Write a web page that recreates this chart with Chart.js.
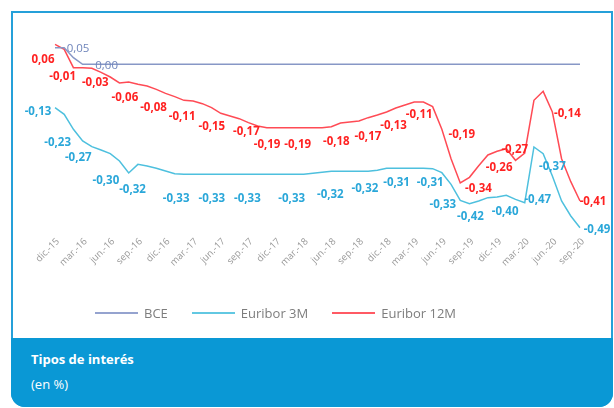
<!DOCTYPE html>
<html>
<head>
<meta charset="utf-8">
<script src="https://cdn.jsdelivr.net/npm/chart.js@4.4.0/dist/chart.umd.min.js"></script>
<style>
  body { margin: 0; width: 614px; height: 408px; background: #fff; position: relative; overflow: hidden; font-family: 'Open Sans', sans-serif; }
  .card { position: absolute; left: 11px; top: 11px; width: 602px; height: 396px; box-sizing: border-box; border: 2px solid #25a0d9; border-radius: 0 0 14px 14px; }
  .foot { position: absolute; left: 11px; top: 338px; width: 602px; height: 69px; background: #0a98d5; border-radius: 0 0 14px 14px; color: #fff; }
  .foot .t1 { position: absolute; left: 20px; top: 12px; font-size: 13px; font-weight: bold; }
  .foot .t2 { position: absolute; left: 20px; top: 37px; font-size: 13px; }
  #chart { position: absolute; left: 0; top: 0; }
  .legend { position: absolute; left: 95px; top: 304px; display: flex; gap: 24px; font-size: 13px; color: #7d7d7d; }
  .legend span { display: flex; align-items: center; }
  .legend i { display: inline-block; width: 43px; height: 2px; margin-right: 6px; }
</style>
</head>
<body>
<div class="card"></div>
<div class="foot"><div class="t1">Tipos de interés</div><div class="t2">(en %)</div></div>
<canvas id="chart" width="614" height="338"></canvas>
<div class="legend">
  <span><i style="background:#95a3cf"></i>BCE</span>
  <span><i style="background:#62c8e2"></i>Euribor 3M</span>
  <span><i style="background:#ff5a64"></i>Euribor 12M</span>
</div>
<script>
const quarterLabels = ['dic.-15', 'mar.-16', 'jun.-16', 'sep.-16', 'dic.-16', 'mar.-17', 'jun.-17', 'sep.-17', 'dic.-17', 'mar.-18',
  'jun.-18', 'sep.-18', 'dic.-18', 'mar.-19', 'jun.-19', 'sep.-19', 'dic.-19', 'mar.-20', 'jun.-20', 'sep.-20']

// monthly, dic.-15 .. sep.-20
const bce = [0.05, 0.05, 0.02, 0, 0, 0, 0, 0, 0, 0, 0, 0, 0, 0, 0, 0, 0, 0, 0, 0,
  0, 0, 0, 0, 0, 0, 0, 0, 0, 0, 0, 0, 0, 0, 0, 0, 0, 0, 0, 0,
  0, 0, 0, 0, 0, 0, 0, 0, 0, 0, 0, 0, 0, 0, 0, 0, 0, 0]
const euribor3m = [-0.13, -0.15, -0.195, -0.23, -0.247, -0.257, -0.268, -0.29, -0.326, -0.30,
  -0.305, -0.312, -0.32, -0.328, -0.33, -0.33, -0.33, -0.33, -0.33, -0.33,
  -0.33, -0.33, -0.33, -0.33, -0.33, -0.33, -0.33, -0.33, -0.327, -0.324,
  -0.321, -0.321, -0.321, -0.321, -0.321, -0.318, -0.312, -0.312, -0.312, -0.312,
  -0.312, -0.313, -0.325, -0.36, -0.408, -0.418, -0.41, -0.40, -0.398, -0.393,
  -0.405, -0.415, -0.248, -0.268, -0.335, -0.41, -0.455, -0.49]
const euribor12m = [0.06, 0.045, -0.01, -0.01, -0.012, -0.024, -0.038, -0.056, -0.053, -0.06,
  -0.065, -0.075, -0.087, -0.097, -0.108, -0.11, -0.118, -0.13, -0.147, -0.155,
  -0.163, -0.175, -0.185, -0.19, -0.19, -0.19, -0.19, -0.19, -0.19, -0.19,
  -0.187, -0.176, -0.173, -0.17, -0.16, -0.152, -0.143, -0.131, -0.122, -0.113,
  -0.113, -0.127, -0.195, -0.283, -0.356, -0.339, -0.304, -0.272, -0.261, -0.253,
  -0.288, -0.266, -0.108, -0.081, -0.143, -0.283, -0.352, -0.41]

// quarterly value labels (null = not shown)
const bceTags = [0.05, 0.00, null, null, null, null, null, null, null, null,
  null, null, null, null, null, null, null, null, null, null]
const euribor3mTags = [-0.13, -0.23, -0.27, -0.30, -0.32, -0.33, -0.33, -0.33, null, -0.33,
  -0.32, -0.32, -0.31, -0.31, -0.33, -0.42, -0.40, -0.47, -0.37, -0.49]
const euribor12mTags = [0.06, -0.01, -0.03, -0.06, -0.08, -0.11, -0.15, -0.17, -0.19, -0.19,
  -0.18, -0.17, -0.13, -0.11, -0.19, -0.34, -0.26, -0.27, -0.14, -0.41]

// where each label sits relative to its point
const bceShift = [[23, 1], [24, 1]]
const euribor3mShift = [[-17, 4], [-25, 2], [-32, 4], [-32, 16], [-33, 19], [-17, 24], [-9, 24], [-1, 24], null, [-12, 24],
  [-1, 23], [6, 17], [10, 14], [16, 14], [1, 32], [1, 13], [8, 15], [13, -3], [0, -9], [17, 2]]
const euribor12mShift = [[-12, 15], [-20, 9], [-15, 6], [-13, 13], [-12, 14], [-11, 16], [-9, 13], [-2, 9], [-9, 17], [-6, 17],
  [5, 15], [9, 16], [7, 14], [5, 13], [20, 5], [9, 11], [2, 16], [-10, -3], [15, 2], [13, 1]]

const monthLabels = []
for (let i = 0; i < euribor12m.length; i++) monthLabels.push(i % 3 === 0 ? quarterLabels[i / 3] : '')

// draws the little value labels next to the quarterly points
const valueTags = {
  id: 'valueTags',
  afterDatasetsDraw(chart) {
    const ctx = chart.ctx
    chart.data.datasets.forEach((ds, i) => {
      const meta = chart.getDatasetMeta(i)
      ctx.save()
      ctx.font = ds.tagFont
      ctx.fillStyle = ds.tagColor
      ctx.textAlign = 'center'
      ctx.textBaseline = 'middle'
      ds.tags.forEach((v, q) => {
        if (v === null) return
        const pt = meta.data[q * 3]
        const [dx, dy] = ds.tagShift[q]
        ctx.fillText(v.toFixed(2).replace('.', ','), pt.x + dx, pt.y + dy)
      })
      ctx.restore()
    })
  }
}

new Chart(document.getElementById('chart'), {
  type: 'line',
  data: {
    labels: monthLabels,
    datasets: [
      { label: 'BCE', data: bce, borderColor: '#8797c6', borderWidth: 1.5, pointRadius: 0, tension: 0,
        tags: bceTags, tagShift: bceShift, tagColor: '#6f85bb', tagFont: '11.5px "Open Sans"' },
      { label: 'Euribor 3M', data: euribor3m, borderColor: '#4ec0de', borderWidth: 1.5, pointRadius: 0, tension: 0,
        tags: euribor3mTags, tagShift: euribor3mShift, tagColor: '#2aa7d9', tagFont: 'bold 11.5px "Open Sans"' },
      { label: 'Euribor 12M', data: euribor12m, borderColor: '#ff4b55', borderWidth: 1.5, pointRadius: 0, tension: 0,
        tags: euribor12mTags, tagShift: euribor12mShift, tagColor: '#ff2222', tagFont: 'bold 11.5px "Open Sans"' }
    ]
  },
  options: {
    responsive: false,
    animation: false,
    layout: { padding: { left: 55, right: 34, top: 31, bottom: 0 } },
    plugins: { legend: { display: false }, tooltip: { enabled: false } },
    scales: {
      x: {
        grid: { display: false, drawTicks: false },
        border: { display: false },
        ticks: { autoSkip: false, minRotation: 45, maxRotation: 45, color: '#999999',
          font: { family: 'Open Sans', size: 9.5 }, padding: 5, labelOffset: 3 },
        afterFit: (scale) => { scale.height = 107 }
      },
      y: { display: false, min: -0.5, max: 0.1 }
    }
  },
  plugins: [valueTags]
})
</script>
</body>
</html>
